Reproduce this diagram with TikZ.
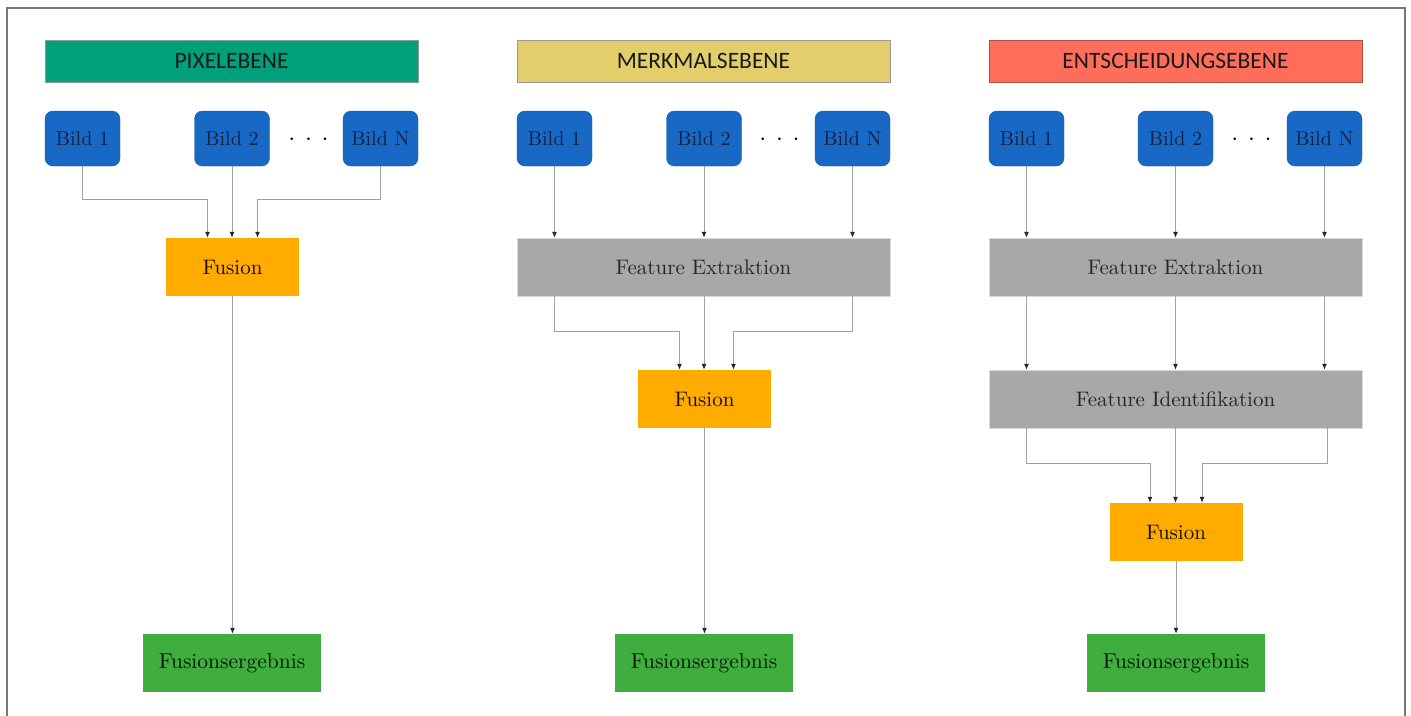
\documentclass[tikz,border=0pt]{standalone}
\usepackage{fontspec}
\newfontfamily\carlito{Carlito}
\newfontfamily\lmten{lmroman10-regular}[Extension=.otf]
\usetikzlibrary{arrows.meta,calc}
\definecolor{hdrgreen}{HTML}{00A07A}
\definecolor{hdryellow}{HTML}{E3CE6C}
\definecolor{hdrred}{HTML}{FF6E5A}
\definecolor{bildblue}{HTML}{1868C6}
\definecolor{fusorange}{HTML}{FFAB00}
\definecolor{featgray}{HTML}{A8A8A8}
\definecolor{resgreen}{HTML}{40AE3E}
\definecolor{linegray}{HTML}{A0A0A0}
\definecolor{framegray}{HTML}{777777}
\definecolor{bildtext}{HTML}{14203C}
\tikzset{
  hdr/.style={draw=black!40, minimum width=373pt, minimum height=42pt, inner sep=0pt,
    font=\carlito\fontsize{23.5}{27}\selectfont, text=black!90},
  bild/.style={rounded corners=8pt, fill=bildblue, draw=bildblue!85!black, minimum width=75pt,
    minimum height=55pt, inner sep=0pt, font=\lmten\fontsize{20}{24}\selectfont, text=bildtext},
  fusbox/.style={fill=fusorange, minimum width=133pt, minimum height=58pt, inner sep=0pt,
    font=\lmten\fontsize{21}{25}\selectfont, text=black!90!orange},
  featbox/.style={fill=featgray, draw=black!15, minimum width=373pt, minimum height=58pt, inner sep=0pt,
    font=\lmten\fontsize{21}{25}\selectfont, text=black!85},
  resbox/.style={fill=resgreen, minimum width=178pt, minimum height=58pt, inner sep=0pt,
    font=\lmten\fontsize{21.5}{25}\selectfont, text=black!90!green},
  dotsnode/.style={font=\fontsize{28}{30}\selectfont, inner sep=0pt},
  conn/.style={draw=linegray, line width=1pt, -{Latex[length=6pt,width=5pt,color=black!85]}}
}
\begin{document}
\begin{tikzpicture}[x=1pt,y=-1pt]
\useasboundingbox (0,0) rectangle (1411,715);
\fill[white] (0,0) rectangle (1411,715);
\coordinate (fbl) at (6.5,716);
\coordinate (ftl) at (6.5,7.5);
\coordinate (ftr) at (1404.5,7.5);
\coordinate (fbr) at (1404.5,716);
\draw[framegray, line width=2pt] (fbl) -- (ftl) -- (ftr) -- (fbr);

% ---------- Column 1: Pixelebene ----------
\node[hdr, fill=hdrgreen] (c1h) at (231.5,61) {PIXELEBENE};
\node[bild] (c1b1) at (82.5,138.5) {Bild 1};
\node[bild] (c1b2) at (232,138.5) {Bild 2};
\node[bild] (c1bn) at (380.5,138.5) {Bild N};
\node[dotsnode] (c1d) at (308.5,140) {$\cdot\,\cdot\,\cdot$};
\node[fusbox] (c1fu) at (232.5,267) {Fusion};
\node[resbox] (c1re) at (232,663) {Fusionsergebnis};
\coordinate (c1m) at (0,199);
\draw[conn] (c1b1.south) -- (c1b1.south |- c1m) -| ([xshift=-25pt]c1fu.north);
\draw[conn] (c1b2.south) -- (c1b2.south |- c1fu.north);
\draw[conn] (c1bn.south) -- (c1bn.south |- c1m) -| ([xshift=25pt]c1fu.north);
\draw[conn] (c1fu.south) -- (c1fu.south |- c1re.north);

% ---------- Column 2: Merkmalsebene ----------
\node[hdr, fill=hdryellow] (c2h) at (703.5,61) {MERKMALSEBENE};
\node[bild] (c2b1) at (554.5,138.5) {Bild 1};
\node[bild] (c2b2) at (704,138.5) {Bild 2};
\node[bild] (c2bn) at (852.5,138.5) {Bild N};
\node[dotsnode] (c2d) at (779.5,140) {$\cdot\,\cdot\,\cdot$};
\node[featbox] (c2fe) at (703.5,267) {Feature Extraktion};
\node[fusbox] (c2fu) at (704.5,399) {Fusion};
\node[resbox] (c2re) at (704,663) {Fusionsergebnis};
\draw[conn] (c2b1.south) -- (c2b1.south |- c2fe.north);
\draw[conn] (c2b2.south) -- (c2b2.south |- c2fe.north);
\draw[conn] (c2bn.south) -- (c2bn.south |- c2fe.north);
\coordinate (c2m) at (0,331);
\coordinate (c2p1) at (c2b1.south |- c2fe.south);
\coordinate (c2p2) at (c2b2.south |- c2fe.south);
\coordinate (c2pn) at (c2bn.south |- c2fe.south);
\draw[conn] (c2p1) -- (c2p1 |- c2m) -| ([xshift=-25pt]c2fu.north);
\draw[conn] (c2p2) -- (c2p2 |- c2fu.north);
\draw[conn] (c2pn) -- (c2pn |- c2m) -| ([xshift=29pt]c2fu.north);
\draw[conn] (c2fu.south) -- (c2fu.south |- c2re.north);

% ---------- Column 3: Entscheidungsebene ----------
\node[hdr, fill=hdrred, draw=hdrred!70!black] (c3h) at (1175.5,61) {ENTSCHEIDUNGSEBENE};
\node[bild] (c3b1) at (1026.5,138.5) {Bild 1};
\node[bild] (c3b2) at (1175.5,138.5) {Bild 2};
\node[bild] (c3bn) at (1324.5,138.5) {Bild N};
\node[dotsnode] (c3d) at (1251.5,140) {$\cdot\,\cdot\,\cdot$};
\node[featbox] (c3fe) at (1175.5,267) {Feature Extraktion};
\node[featbox] (c3fi) at (1175.5,399) {Feature Identifikation};
\node[fusbox] (c3fu) at (1176,532) {Fusion};
\node[resbox] (c3re) at (1176,663) {Fusionsergebnis};
\draw[conn] (c3b1.south) -- (c3b1.south |- c3fe.north);
\draw[conn] (c3b2.south) -- (c3b2.south |- c3fe.north);
\draw[conn] (c3bn.south) -- (c3bn.south |- c3fe.north);
\coordinate (c3q1) at (c3b1.south |- c3fe.south);
\coordinate (c3q2) at (c3b2.south |- c3fe.south);
\coordinate (c3qn) at (c3bn.south |- c3fe.south);
\draw[conn] (c3q1) -- (c3q1 |- c3fi.north);
\draw[conn] (c3q2) -- (c3q2 |- c3fi.north);
\draw[conn] (c3qn) -- (c3qn |- c3fi.north);
\coordinate (c3m) at (0,463);
\coordinate (c3r1) at (c3b1.south |- c3fi.south);
\coordinate (c3r2) at (c3b2.south |- c3fi.south);
\coordinate (c3rn) at ([xshift=3pt]c3bn.south |- c3fi.south);
\draw[conn] (c3r1) -- (c3r1 |- c3m) -| ([xshift=-26pt]c3fu.north);
\draw[conn] (c3r2) -- (c3r2 |- c3fu.north);
\draw[conn] (c3rn) -- (c3rn |- c3m) -| ([xshift=26pt]c3fu.north);
\draw[conn] (c3fu.south) -- (c3fu.south |- c3re.north);
\end{tikzpicture}
\end{document}
